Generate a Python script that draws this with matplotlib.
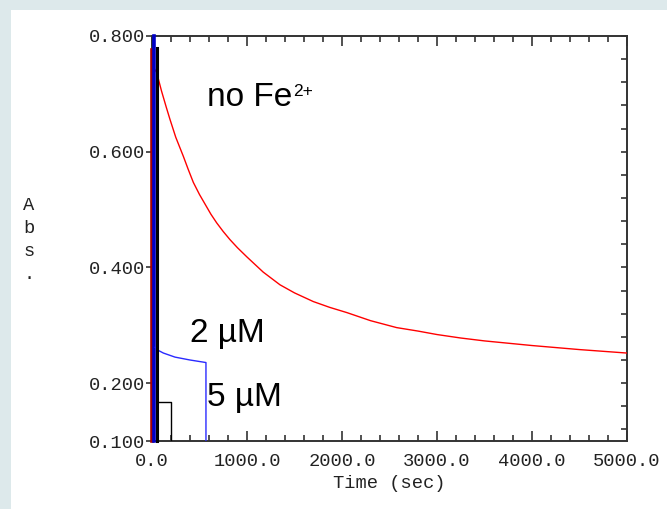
import matplotlib
matplotlib.use("Agg")
import matplotlib.pyplot as plt
import matplotlib.patches as mpatches
from matplotlib.ticker import MultipleLocator, FixedLocator

# ── data ───────────────────────────────────────────────────────────────
# no Fe2+ (red)
red_spike_t, red_spike_top = 0, 0.775
red_t = [30, 49, 100, 150, 189, 250, 330, 380, 435, 500, 560, 620, 681, 750,
         821, 900, 1000, 1170, 1347, 1500, 1698, 1870, 2050, 2300, 2575, 2800,
         3000, 3250, 3500, 3750, 4000, 4500, 5000]
red_y = [0.742, 0.737, 0.705, 0.677, 0.656, 0.625, 0.592, 0.570, 0.547, 0.526,
         0.509, 0.492, 0.477, 0.462, 0.448, 0.434, 0.418, 0.392, 0.370, 0.356,
         0.341, 0.331, 0.322, 0.308, 0.296, 0.290, 0.284, 0.278, 0.273, 0.269,
         0.265, 0.258, 0.252]

# 2 uM (blue)
blue_spike_t, blue_spike_top = 25, 0.800
blue_t = [35, 50, 120, 242, 400, 568, 568]
blue_y = [0.262, 0.258, 0.252, 0.245, 0.240, 0.2356, 0.100]

# 5 uM (black)
black_spike_t, black_spike_top = 48, 0.780
black_t = [55, 55, 195, 195]
black_y = [0.235, 0.168, 0.168, 0.100]

Y_MIN, Y_MAX = 0.100, 0.800
X_MIN, X_MAX = 0.0, 5000.0
YTICKS = [0.100, 0.200, 0.400, 0.600, 0.800]
XTICKS = [0, 1000, 2000, 3000, 4000, 5000]

MONO = ["Liberation Mono", "DejaVu Sans Mono"]
SANS = "Liberation Sans"
TXT = "#222222"

fig = plt.figure(figsize=(6.67, 5.09), dpi=100, facecolor="#dde9eb")
fig.patches.append(mpatches.Rectangle((11 / 667, 0), 1, 1 - 10 / 509,
                                      transform=fig.transFigure,
                                      facecolor="white", edgecolor="none", zorder=-5))

ax = fig.add_axes([152 / 667, 1 - 441 / 509, 475 / 667, 405 / 509])
ax.set_facecolor("white")

# spikes (fast initial phase)
ax.plot([red_spike_t, red_spike_t], [Y_MIN, red_spike_top], color="#a80000",
        lw=2.6, clip_on=False, zorder=3)
ax.plot([blue_spike_t, blue_spike_t], [Y_MIN, blue_spike_top], color="#0000c8",
        lw=2.6, clip_on=False, zorder=4)
ax.plot([black_spike_t, black_spike_t], [Y_MIN, black_spike_top], color="black",
        lw=2.2, clip_on=False, zorder=5)

# slow phases
ax.plot(red_t, red_y, color="#ff0000", lw=1.0, zorder=3)
ax.plot(blue_t, blue_y, color="#2a2aff", lw=1.0, zorder=4)
ax.plot(black_t, black_y, color="black", lw=1.0, zorder=5)

ax.set_xlim(X_MIN, X_MAX)
ax.set_ylim(Y_MIN, Y_MAX)

for s in ax.spines.values():
    s.set_color("#333333")
    s.set_linewidth(1.4)

ax.xaxis.set_major_locator(FixedLocator(XTICKS))
ax.xaxis.set_minor_locator(MultipleLocator(200))
ax.set_xticklabels([f"{v:.1f}" for v in XTICKS], family=MONO, fontsize=13.5,
                   color=TXT)
ax.tick_params(axis="x", which="both", direction="in", top=True, bottom=True,
               color="#333333", width=1.2)
ax.tick_params(axis="x", which="major", length=7, pad=9)
ax.tick_params(axis="x", which="minor", length=4)

ax.yaxis.set_major_locator(FixedLocator(YTICKS))
ax.set_yticklabels([f"{v:.3f}" for v in YTICKS], family=MONO, fontsize=13.5,
                   color=TXT)
ax.tick_params(axis="y", which="major", direction="out", length=4, width=1.2,
               color="#333333", left=True, right=False, pad=1)

# inward ticks on the right side
axr = ax.twinx()
axr.set_ylim(Y_MIN, Y_MAX)
axr.yaxis.set_major_locator(MultipleLocator(0.04))
axr.tick_params(axis="y", direction="in", length=4, width=1.2, color="#333333",
                labelright=False)
for s in axr.spines.values():
    s.set_visible(False)

ax.set_xlabel("Time (sec)", family=MONO, fontsize=13.5, labelpad=3, color=TXT)
fig.text(29 / 667, 1 - 240 / 509, "A\nb\ns\n.", family=MONO, fontsize=13.5,
         ha="center", va="center", linespacing=1.45, color=TXT)

# curve labels
t_fe = ax.text(580, 0.694, "no Fe", family=SANS, fontsize=24,
               ha="left", va="center")
ax.annotate("2+", xy=(1, 0.93), xycoords=t_fe, xytext=(0.5, 0),
            textcoords="offset points", family=SANS, fontsize=12.5,
            ha="left", va="top")
ax.text(400, 0.286, "2 µM", family=SANS, fontsize=24, ha="left", va="center")
ax.text(580, 0.176, "5 µM", family=SANS, fontsize=24, ha="left", va="center")

fig.savefig("out.png", dpi=100, facecolor=fig.get_facecolor())
